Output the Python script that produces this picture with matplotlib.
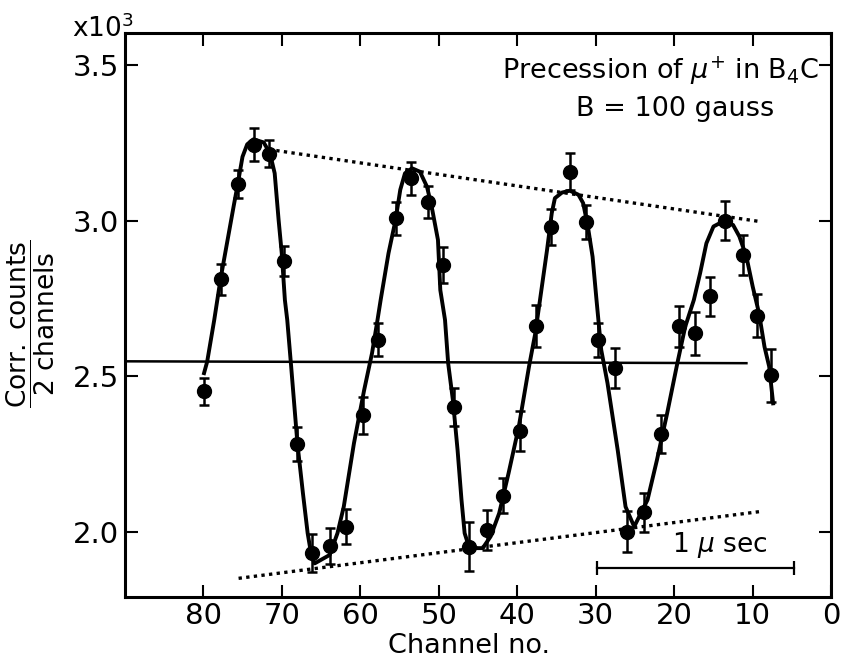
import matplotlib
matplotlib.use("Agg")
import matplotlib.pyplot as plt
from matplotlib.ticker import FormatStrFormatter

# measured points (channel, corr. counts x10^3, error)
channel = [79.9, 77.8, 75.6, 73.5, 71.6, 69.7, 68.0, 66.2, 63.9, 61.8,
           59.7, 57.8, 55.4, 53.5, 51.4, 49.5, 48.1, 46.2, 43.8, 41.8,
           39.6, 37.6, 35.7, 33.3, 31.3, 29.7, 27.5, 26.0, 23.8, 21.7,
           19.4, 17.3, 15.5, 13.5, 11.2, 9.5, 7.7]
counts = [2.452, 2.812, 3.117, 3.243, 3.215, 2.871, 2.283, 1.932, 1.955, 2.017,
          2.374, 2.618, 3.008, 3.136, 3.060, 2.857, 2.400, 1.953, 2.006, 2.117,
          2.325, 2.661, 2.978, 3.157, 2.995, 2.616, 2.526, 2.001, 2.063, 2.314,
          2.660, 2.638, 2.757, 3.000, 2.889, 2.695, 2.503]
err = [0.044, 0.050, 0.046, 0.053, 0.044, 0.048, 0.055, 0.061, 0.058, 0.056,
       0.059, 0.052, 0.053, 0.053, 0.052, 0.057, 0.061, 0.080, 0.064, 0.056,
       0.064, 0.067, 0.058, 0.060, 0.055, 0.055, 0.065, 0.067, 0.063, 0.061,
       0.066, 0.070, 0.063, 0.062, 0.065, 0.070, 0.085]

# drawn fit curve
curve_ch = [79.9, 79.5, 78.6, 77.8, 76.1, 75.6, 75.0, 74.4, 73.6, 72.3,
            71.5, 70.9, 70.4, 70.0, 69.6, 69.3, 68.8, 68.0, 67.3, 66.7,
            66.2, 65.8, 63.9, 62.9, 62.1, 60.8, 59.5, 58.5, 57.8, 57.4,
            56.4, 55.5, 54.9, 54.3, 53.4, 52.4, 51.5, 50.9, 50.1, 49.8,
            49.2, 48.8, 48.2, 47.6, 47.1, 46.7, 46.1, 44.4, 43.4, 42.3,
            41.1, 39.8, 38.5, 37.7, 37.1, 36.2, 35.6, 35.2, 34.3, 33.3,
            32.2, 31.6, 31.0, 30.4, 29.9, 29.3, 28.5, 27.2, 26.2, 25.1,
            23.4, 22.2, 20.9, 19.6, 18.6, 17.5, 16.7, 15.9, 15.0, 13.8,
            12.5, 11.7, 10.8, 10.0, 9.2, 8.5, 7.9, 7.4]
curve_val = [2.510, 2.547, 2.681, 2.812, 3.050, 3.118, 3.205, 3.245, 3.261, 3.251,
             3.216, 3.152, 3.002, 2.895, 2.745, 2.681, 2.531, 2.283, 2.124, 1.996,
             1.921, 1.899, 1.926, 1.996, 2.081, 2.285, 2.456, 2.574, 2.681, 2.745,
             2.895, 3.002, 3.099, 3.152, 3.168, 3.157, 3.109, 3.045, 2.938, 2.777,
             2.681, 2.542, 2.424, 2.263, 2.103, 1.996, 1.948, 1.948, 1.985, 2.060,
             2.189, 2.338, 2.531, 2.638, 2.745, 2.906, 3.024, 3.072, 3.090, 3.096,
             3.083, 3.056, 2.981, 2.884, 2.745, 2.585, 2.478, 2.263, 2.081, 2.017,
             2.103, 2.231, 2.381, 2.542, 2.659, 2.745, 2.831, 2.927, 2.981, 2.997,
             2.986, 2.949, 2.884, 2.788, 2.703, 2.595, 2.531, 2.413]

# reference lines
base_ch = [90.0, 10.8]
base_val = [2.548, 2.542]
upper_ch = [70.7, 9.1]
upper_val = [3.225, 2.997]
lower_ch = [75.5, 9.2]
lower_val = [1.851, 2.065]
scale_ch = [29.8, 4.7]
scale_val = [1.885, 1.885]

fig = plt.figure(figsize=(8.43, 6.63), dpi=100)
ax = fig.add_axes([0.148, 0.100, 0.838, 0.850])

ax.plot(base_ch, base_val, color='black', lw=1.8)
ax.plot(upper_ch, upper_val, color='black', lw=2.4, linestyle=(0, (1, 1.3)))
ax.plot(lower_ch, lower_val, color='black', lw=2.4, linestyle=(0, (1, 1.3)))
ax.plot(curve_ch, curve_val, color='black', lw=2.8, zorder=3)
ax.errorbar(channel, counts, yerr=err, fmt='o', color='black', ms=10,
            elinewidth=1.8, capsize=3.6, capthick=1.8, zorder=4)

# 1 microsecond scale bar
ax.plot(scale_ch, scale_val, color='black', lw=1.6, marker='|', ms=10, mew=1.6)
ax.text(14.2, 1.958, r'1 $\mu$ sec', fontsize=19, ha='center', va='center')

ax.text(0.983, 0.933, r'Precession of $\mu^{+}$ in B$_4$C', transform=ax.transAxes,
        fontsize=19.5, ha='right', va='center')
ax.text(0.779, 0.866, 'B = 100 gauss', transform=ax.transAxes,
        fontsize=19.5, ha='center', va='center')

ax.set_xlim(90, 0)
ax.set_ylim(1.792, 3.602)
ax.set_xticks([80, 70, 60, 50, 40, 30, 20, 10, 0])
ax.set_yticks([2.0, 2.5, 3.0, 3.5])
ax.yaxis.set_major_formatter(FormatStrFormatter('%.1f'))
ax.tick_params(direction='in', length=9, width=1.5, top=True, right=True,
               labelsize=21, pad=4)
for sp in ax.spines.values():
    sp.set_linewidth(2.2)

ax.set_xlabel('Channel no.', fontsize=19.5, va='center')
ax.xaxis.set_label_coords(0.487, -0.087)
ax.set_ylabel(r'$\dfrac{\mathregular{Corr.\ counts}}{\mathregular{2\ channels}}$',
              fontsize=19, va='center', ha='center')
ax.yaxis.set_label_coords(-0.133, 0.485)

fig.text(0.085, 0.944, r'x10$^3$', fontsize=19, ha='left', va='baseline')

fig.savefig('out.png', dpi=100)
